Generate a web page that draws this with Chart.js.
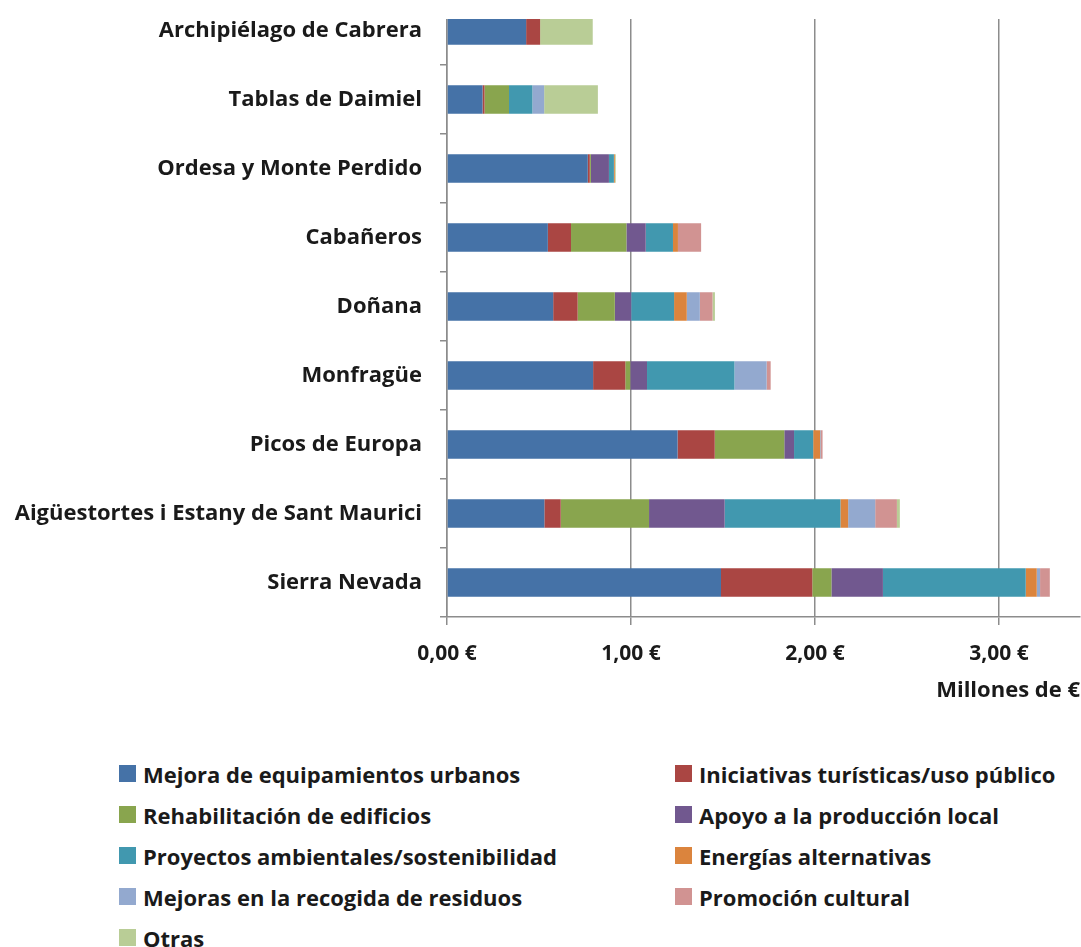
<!DOCTYPE html>
<html>
<head>
<meta charset="utf-8">
<script src="https://cdn.jsdelivr.net/npm/chart.js@4"></script>
<style>
  body { margin: 0; background: #fff; width: 1081px; height: 947px; overflow: hidden; position: relative; }
  #wrap { position: absolute; left: 0; top: -4px; width: 1081px; height: 720px; }
  #legend { position: absolute; left: 119px; top: 753px; display: grid; grid-template-columns: 556px 400px;
            font-family: "Open Sans", sans-serif; font-weight: bold; font-size: 22px; color: #1a1a1a; }
  .item { display: flex; align-items: center; height: 41px; white-space: nowrap; }
  .box { width: 17px; height: 17px; margin-right: 7px; flex: none; }
</style>
</head>
<body>
<div id="wrap"><canvas id="chart"></canvas></div>
<div id="legend"></div>
<script>
const parques = ['Archipiélago de Cabrera', 'Tablas de Daimiel', 'Ordesa y Monte Perdido', 'Cabañeros', 'Doñana',
                 'Monfragüe', 'Picos de Europa', 'Aigüestortes i Estany de Sant Maurici', 'Sierra Nevada'];

const series = ['Mejora de equipamientos urbanos', 'Iniciativas turísticas/uso público', 'Rehabilitación de edificios',
                'Apoyo a la producción local', 'Proyectos ambientales/sostenibilidad', 'Energías alternativas',
                'Mejoras en la recogida de residuos', 'Promoción cultural', 'Otras'];

const colores = ['#4572a7', '#aa4643', '#89a54e', '#71588f', '#4198af', '#db843d', '#93a9cf', '#d19392', '#b9cd96'];

// millones de euros, en el orden de "parques"
const mejora        = [0.430, 0.193, 0.765, 0.548, 0.577, 0.794, 1.253, 0.529, 1.489];
const iniciativas   = [0.076, 0.011, 0.011, 0.126, 0.133, 0.175, 0.202, 0.089, 0.496];
const rehabilitacion= [0,     0.133, 0.006, 0.301, 0.202, 0.027, 0.378, 0.480, 0.104];
const apoyo         = [0,     0,     0.098, 0.105, 0.089, 0.091, 0.053, 0.411, 0.280];
const proyectos     = [0,     0.127, 0.027, 0.148, 0.233, 0.475, 0.104, 0.629, 0.776];
const energias      = [0,     0,     0.005, 0.027, 0.069, 0,     0.038, 0.042, 0.060];
const residuos      = [0,     0.064, 0,     0,     0.071, 0.175, 0.004, 0.147, 0.018];
const promocion     = [0,     0,     0,     0.126, 0.069, 0.022, 0.009, 0.118, 0.053];
const otras         = [0.286, 0.292, 0.005, 0,     0.013, 0,     0,     0.016, 0];

const valores = [mejora, iniciativas, rehabilitacion, apoyo, proyectos, energias, residuos, promocion, otras];
const xTicks = [0, 1, 2, 3];

const fmtEuro = (v) => v.toFixed(2).replace('.', ',') + ' €';
const fuente = '"Open Sans", sans-serif';
const gris = '#8c8c8c';

// the original picture is cut just above the plot: hide the top strip of the plot area
const recorte = {
  id: 'recorte',
  beforeDraw(chart) {
    const { ctx, chartArea, width, height } = chart;
    ctx.save();
    ctx.beginPath();
    ctx.rect(0, 0, chartArea.left - 7, height);
    ctx.rect(chartArea.left - 7, chartArea.top + 23, width, height);
    ctx.clip();
  },
  afterDraw(chart) { chart.ctx.restore(); }
};

new Chart(document.getElementById('chart'), {
  type: 'bar',
  data: {
    labels: parques,
    datasets: series.map((s, i) => ({
      label: s,
      data: valores[i],
      backgroundColor: colores[i],
      borderWidth: 0,
      categoryPercentage: 1,
      barPercentage: 0.41
    }))
  },
  plugins: [recorte],
  options: {
    indexAxis: 'y',
    responsive: true,
    maintainAspectRatio: false,
    animation: false,
    layout: { padding: { left: 0, right: 1, top: 0, bottom: 0 } },
    plugins: { legend: { display: false }, tooltip: { enabled: false } },
    scales: {
      x: {
        stacked: true,
        min: 0,
        max: 3.44,
        afterBuildTicks: (scale) => { scale.ticks = xTicks.map(v => ({ value: v })); },
        afterFit: (scale) => { scale.height = 99; scale.paddingLeft = 0; scale.paddingRight = 0; },
        border: { color: gris, width: 1.5 },
        grid: { color: gris, lineWidth: 1.5, tickLength: 8, drawTicks: true },
        ticks: { callback: (v) => fmtEuro(v), color: '#1a1a1a', padding: 16, font: { family: fuente, size: 21, weight: 'bold' } },
        title: { display: true, text: 'Millones de €', align: 'end', color: '#1a1a1a', padding: { top: 12, bottom: 12 },
                 font: { family: fuente, size: 22, weight: 'bold' } }
      },
      y: {
        stacked: true,
        afterFit: (scale) => { scale.width = 447; scale.paddingTop = 0; scale.paddingBottom = 0; },
        border: { color: gris, width: 1.5 },
        grid: { offset: true, drawOnChartArea: false, drawTicks: true, tickLength: 7, color: gris, lineWidth: 1.5 },
        ticks: { color: '#1a1a1a', padding: 18, font: { family: fuente, size: 22, weight: 'bold' } }
      }
    }
  }
});

const legend = document.getElementById('legend');
series.forEach((s, i) => {
  const it = document.createElement('div');
  it.className = 'item';
  it.innerHTML = '<span class="box" style="background:' + colores[i] + '"></span><span>' + s + '</span>';
  legend.appendChild(it);
});
</script>
</body>
</html>
